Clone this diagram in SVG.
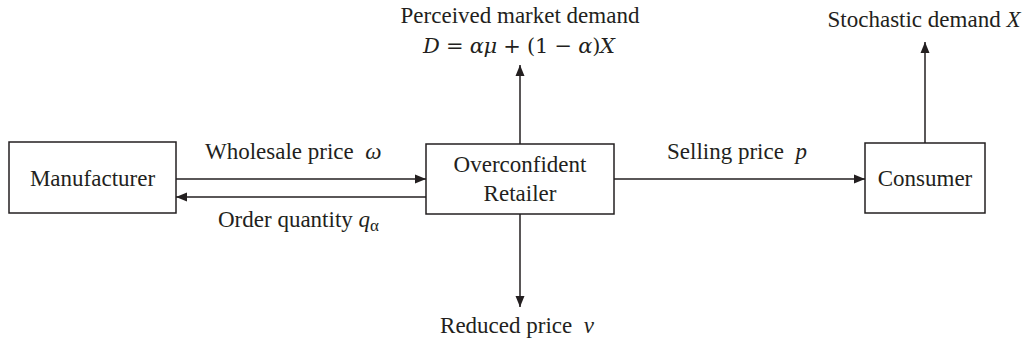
<svg xmlns="http://www.w3.org/2000/svg" width="1025" height="344" viewBox="0 0 1025 344">
<style>
.box{fill:#fff;stroke:#231f20;stroke-width:1.5}
.ln{stroke:#231f20;stroke-width:1.5;fill:none}
text{font-family:"Liberation Serif",serif;font-size:23px;fill:#231f20}
.c{text-anchor:middle}
.i{font-style:italic}
.m{font-family:"DejaVu Serif","Liberation Serif",serif;font-style:italic;font-size:21px}
.mu{font-family:"DejaVu Serif","Liberation Serif",serif;font-size:21px}
</style>
<defs>
<marker id="ah" markerUnits="userSpaceOnUse" markerWidth="12" markerHeight="10" refX="11" refY="5" orient="auto">
<path d="M0,0.5 L11,5 L0,9.5 Z" fill="#231f20"/>
</marker>
</defs>
<rect width="1025" height="344" fill="#fff"/>
<g id="connectors">
<line class="ln" x1="176" y1="179" x2="426" y2="179" marker-end="url(#ah)"/>
<line class="ln" x1="426" y1="197" x2="176" y2="197" marker-end="url(#ah)"/>
<line class="ln" x1="614" y1="179" x2="865" y2="179" marker-end="url(#ah)"/>
<line class="ln" x1="520" y1="144" x2="520" y2="65" marker-end="url(#ah)"/>
<line class="ln" x1="520" y1="214" x2="520" y2="307" marker-end="url(#ah)"/>
<line class="ln" x1="925" y1="143" x2="925" y2="42" marker-end="url(#ah)"/>
<text x="205" y="159">Wholesale price &#160;<tspan class="i">ω</tspan></text>
<text x="218" y="227">Order quantity <tspan class="i">q</tspan><tspan font-size="17" dy="4">α</tspan></text>
<text x="667" y="159">Selling price &#160;<tspan class="i">p</tspan></text>
<text x="517" y="333" class="c">Reduced price &#160;<tspan class="i">v</tspan></text>
<text x="520" y="23" class="c">Perceived market demand</text>
<text x="519" y="53" class="c mu" textLength="192" lengthAdjust="spacing"><tspan class="m">D</tspan> = <tspan class="m">αμ</tspan> + (1 − <tspan class="m">α</tspan>)<tspan class="m">X</tspan></text>
<text x="924" y="27" class="c">Stochastic demand <tspan class="i">X</tspan></text>
</g>
<g id="manufacturer">
<rect class="box" x="9" y="142" width="167" height="71"/>
<text x="92.5" y="186" class="c">Manufacturer</text>
</g>
<g id="retailer">
<rect class="box" x="426" y="144" width="188" height="70"/>
<text x="520" y="172" class="c">Overconfident</text>
<text x="520" y="201" class="c">Retailer</text>
</g>
<g id="consumer">
<rect class="box" x="865" y="143" width="120" height="70"/>
<text x="925" y="186" class="c">Consumer</text>
</g>
</svg>
